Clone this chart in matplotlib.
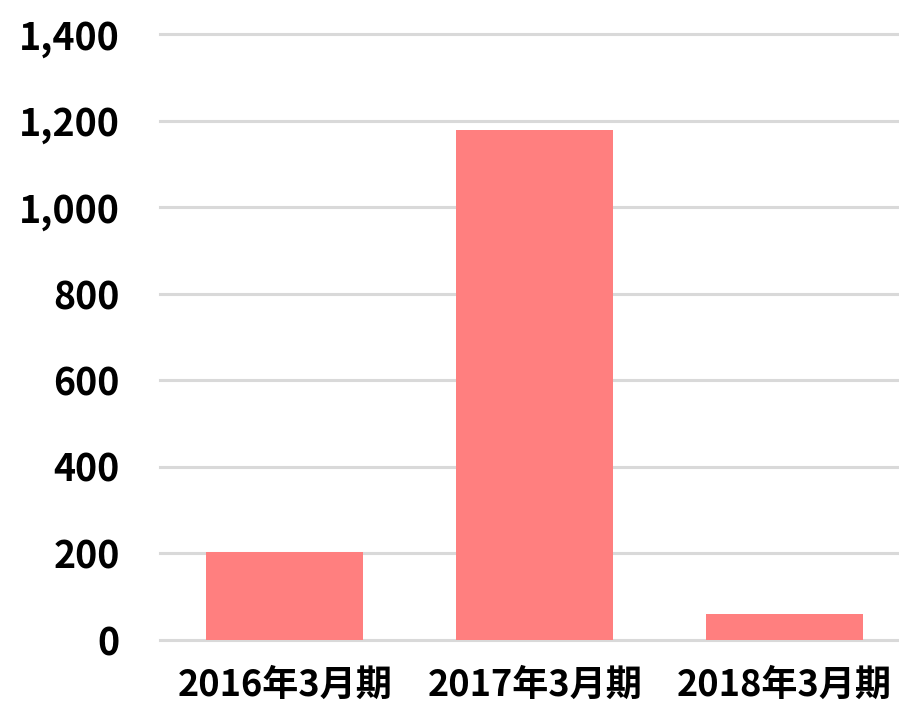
import matplotlib
matplotlib.use("Agg")
import matplotlib.pyplot as plt
from matplotlib.ticker import FuncFormatter

plt.rcParams['font.family'] = ['Noto Sans CJK JP', 'DejaVu Sans']

categories = ["2016年3月期", "2017年3月期", "2018年3月期"]
values = [202, 1177, 59]
yticks = [0, 200, 400, 600, 800, 1000, 1200, 1400]

fig = plt.figure(figsize=(8.99, 7.13), dpi=100)
ax = fig.add_axes([160/899, 73.5/713, 1 - 160/899, (679 - 73.5)/713])

x = list(range(len(categories)))
ax.bar(x, values, width=0.628, color="#FF7F7F", zorder=2)

ax.set_ylim(0, 1400)
ax.set_xlim(-0.5, (899 - 284.5) / 250)
ax.set_yticks(yticks)
ax.yaxis.set_major_formatter(FuncFormatter(lambda v, p: f"{int(v):,}"))
ax.set_xticks(x)
ax.set_xticklabels(categories)
ax.grid(axis='y', color="#d9d9d9", linewidth=2.2, zorder=1)
ax.set_axisbelow(True)
for gl in ax.get_ygridlines():
    gl.set_clip_on(False)
for s in ax.spines.values():
    s.set_visible(False)
ax.tick_params(axis='both', length=0)
ax.tick_params(axis='y', pad=29, labelsize=27)
ax.tick_params(axis='x', pad=20, labelsize=26)
for lab in ax.get_xticklabels() + ax.get_yticklabels():
    lab.set_fontweight('bold')

fig.savefig("out.png", dpi=100)
